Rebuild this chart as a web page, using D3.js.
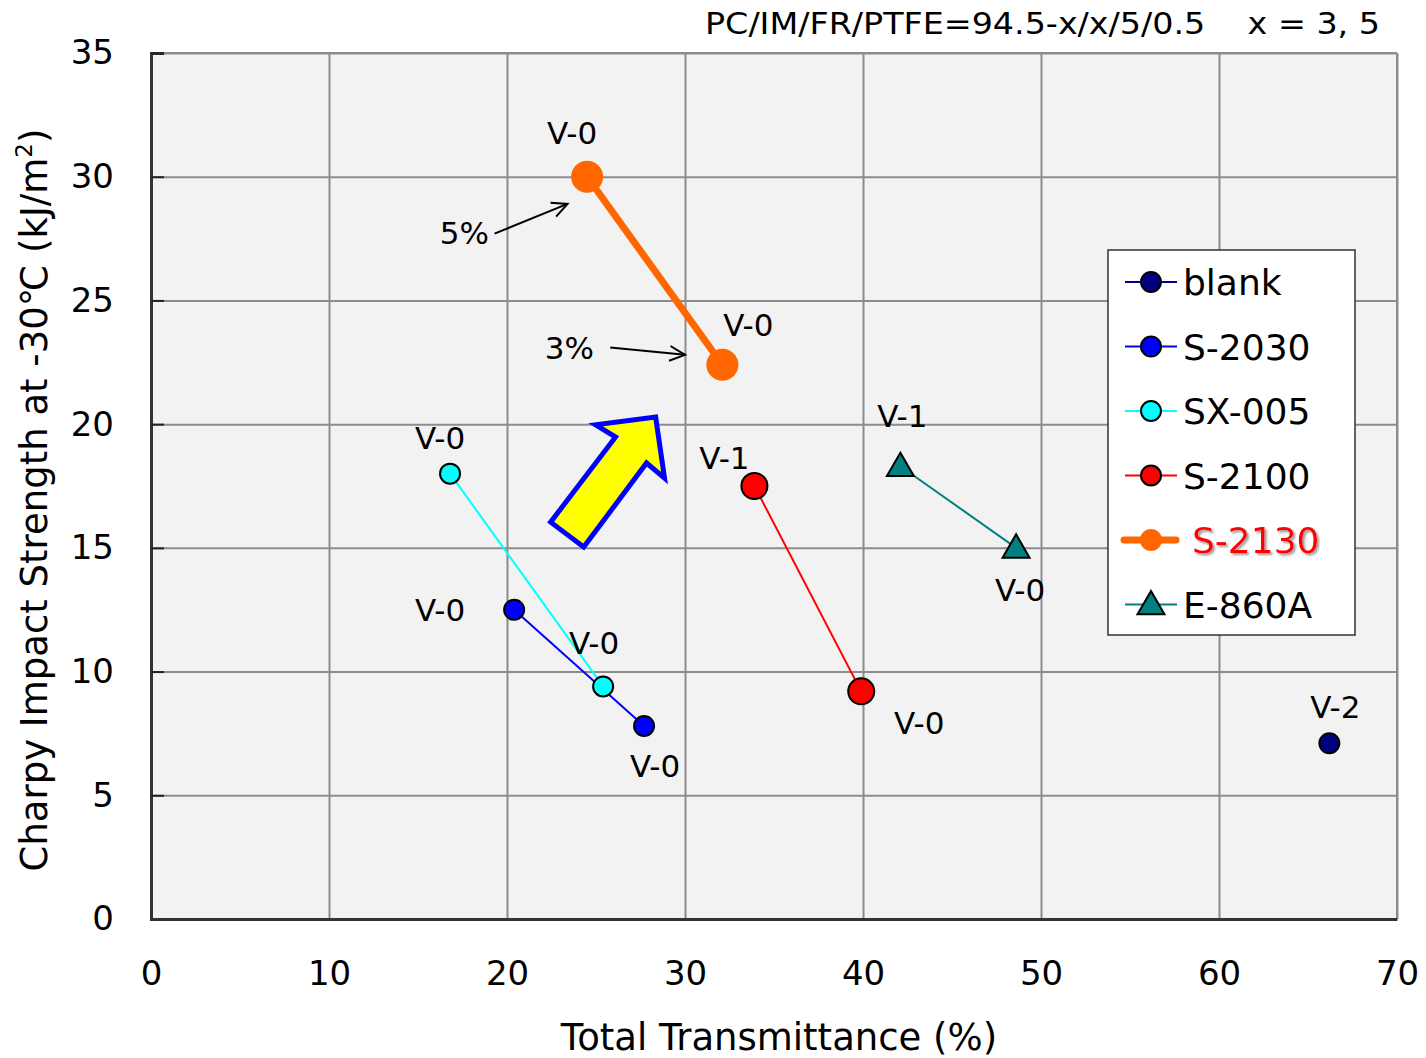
<!DOCTYPE html>
<html>
<head>
<meta charset="utf-8">
<script src="https://cdn.jsdelivr.net/npm/d3@7"></script>
<style>
body { margin: 0; background: #fff; }
text { font-family: "DejaVu Sans", Verdana, sans-serif; }
</style>
</head>
<body>
<svg id="chart" width="1426" height="1058"></svg>
<script>
// data
var seriesNames = ["blank", "S-2030", "SX-005", "S-2100", "S-2130", "E-860A"];
var blankPts = [[66.2, 7.1]];
var s2030Pts = [[20.4, 12.5], [27.7, 7.8]];
var sx005Pts = [[16.8, 18.0], [25.4, 9.4]];
var s2100Pts = [[33.9, 17.5], [39.9, 9.2]];
var s2130Pts = [[24.5, 30.0], [32.1, 22.4]];
var e860Pts = [[42.1, 18.3], [48.6, 15.0]];
// flame ratings, one per point
var blankUL = ["V-2"];
var s2030UL = ["V-0", "V-0"];
var sx005UL = ["V-0", "V-0"];
var s2100UL = ["V-1", "V-0"];
var s2130UL = ["V-0", "V-0"];
var e860UL = ["V-1", "V-0"];
var xTicks = [0, 10, 20, 30, 40, 50, 60, 70];
var yTicks = [0, 5, 10, 15, 20, 25, 30, 35];

var svg = d3.select("#chart");
var pLeft = 151, pRight = 1397, pTop = 53, pBottom = 919;

var x = d3.scaleLinear().domain([0, 70]).range([pLeft, pRight]);
var y = d3.scaleLinear().domain([0, 35]).range([pBottom, pTop]);

// plot background
svg.append("rect")
	.attr("x", pLeft).attr("y", pTop)
	.attr("width", pRight - pLeft).attr("height", pBottom - pTop)
	.attr("fill", "#f2f2f2");

// grid
svg.append("g")
	.attr("transform", "translate(0," + pBottom + ")")
	.call(d3.axisBottom(x).tickValues(xTicks).tickSize(-(pBottom - pTop)).tickFormat(""))
	.call(function (g) {
		g.select(".domain").remove();
		g.selectAll("line").attr("stroke", "#8c8c8c").attr("stroke-width", 2);
	});
svg.append("g")
	.attr("transform", "translate(" + pLeft + ",0)")
	.call(d3.axisLeft(y).tickValues(yTicks).tickSize(-(pRight - pLeft)).tickFormat(""))
	.call(function (g) {
		g.select(".domain").remove();
		g.selectAll("line").attr("stroke", "#8c8c8c").attr("stroke-width", 2);
	});

// frame: top and right lighter, left and bottom dark
svg.append("line").attr("x1", pLeft).attr("x2", pRight).attr("y1", pTop).attr("y2", pTop)
	.attr("stroke", "#8c8c8c").attr("stroke-width", 2);
svg.append("line").attr("x1", pRight).attr("x2", pRight).attr("y1", pTop).attr("y2", pBottom)
	.attr("stroke", "#8c8c8c").attr("stroke-width", 2);

// y axis with inward ticks
var yAxis = svg.append("g")
	.attr("transform", "translate(" + pLeft + ",0)")
	.call(d3.axisLeft(y).tickValues(yTicks).tickSize(-13).tickPadding(37));
yAxis.select(".domain").attr("stroke", "#333").attr("stroke-width", 3);
yAxis.selectAll("line").attr("stroke", "#222").attr("stroke-width", 2);
yAxis.selectAll("text").attr("font-size", 34).attr("fill", "#000")
	.attr("font-family", "DejaVu Sans, Verdana, sans-serif");

var xAxis = svg.append("g")
	.attr("transform", "translate(0," + pBottom + ")")
	.call(d3.axisBottom(x).tickValues(xTicks).tickSize(0).tickPadding(42));
xAxis.select(".domain").attr("stroke", "#333").attr("stroke-width", 3);
xAxis.selectAll("text").attr("font-size", 34).attr("fill", "#000")
	.attr("font-family", "DejaVu Sans, Verdana, sans-serif");

// axis titles
svg.append("text")
	.attr("x", 779).attr("y", 1050)
	.attr("text-anchor", "middle")
	.attr("font-size", 37)
	.text("Total Transmittance (%)");

var yt = svg.append("text")
	.attr("transform", "translate(47,500) rotate(-90)")
	.attr("text-anchor", "middle")
	.attr("font-size", 37);
yt.append("tspan").text("Charpy Impact Strength at -30\u2103 (kJ/m");
yt.append("tspan").attr("font-size", 23).attr("dy", -15).text("2");
yt.append("tspan").attr("dy", 15).text(")");

// composition note
svg.append("text")
	.attr("x", 705).attr("y", 34)
	.attr("font-size", 30)
	.attr("font-family", "DejaVu Sans Condensed, DejaVu Sans, sans-serif")
	.attr("font-stretch", "condensed")
	.attr("textLength", 675)
	.attr("lengthAdjust", "spacingAndGlyphs")
	.attr("xml:space", "preserve")
	.text("PC/IM/FR/PTFE=94.5-x/x/5/0.5    x = 3, 5");

// big yellow arrow (data coordinates)
var bigArrow = [[22.45, 16.04], [24.31, 15.03], [27.84, 18.43], [28.85, 17.82],
	[28.35, 20.29], [24.98, 19.97], [26.10, 19.48]];
svg.append("polygon")
	.attr("points", bigArrow.map(function (p) { return x(p[0]) + "," + y(p[1]); }).join(" "))
	.attr("fill", "#ffff00")
	.attr("stroke", "#0000ff")
	.attr("stroke-width", 5)
	.attr("stroke-linejoin", "miter");

var series = [
	{ name: "blank", pts: blankPts, ul: blankUL, color: "#000080", lw: 2, r: 10, shape: "circle", stroke: "#000" },
	{ name: "S-2030", pts: s2030Pts, ul: s2030UL, color: "#0000ff", lw: 2, r: 10, shape: "circle", stroke: "#000" },
	{ name: "SX-005", pts: sx005Pts, ul: sx005UL, color: "#00ffff", lw: 2, r: 10, shape: "circle", stroke: "#000" },
	{ name: "S-2100", pts: s2100Pts, ul: s2100UL, color: "#ff0000", lw: 2, r: 13, shape: "circle", stroke: "#000" },
	{ name: "S-2130", pts: s2130Pts, ul: s2130UL, color: "#ff6600", lw: 7, r: 16, shape: "circle", stroke: "none" },
	{ name: "E-860A", pts: e860Pts, ul: e860UL, color: "#008080", lw: 2, r: 11, shape: "triangle", stroke: "#000" }
];

// label offsets in px from each point
var labelOffsets = {
	"blank": [[6, -25]],
	"S-2030": [[-74, 11], [11, 51]],
	"SX-005": [[-10, -25], [-9, -32]],
	"S-2100": [[-30, -17], [58, 43]],
	"S-2130": [[-15, -33], [26, -29]],
	"E-860A": [[2, -39], [4, 53]]
};

var line = d3.line().x(function (d) { return x(d[0]); }).y(function (d) { return y(d[1]); });
var tri = d3.symbol().type(d3.symbolTriangle);

function drawMarker(g, s, cx, cy) {
	if (s.shape == "triangle") {
		g.append("path")
			.attr("d", tri.size(s.r * s.r * 2.6)())
			.attr("transform", "translate(" + cx + "," + (cy + 2) + ")")
			.attr("fill", s.color)
			.attr("stroke", s.stroke)
			.attr("stroke-width", 2);
	} else {
		g.append("circle")
			.attr("cx", cx).attr("cy", cy).attr("r", s.r)
			.attr("fill", s.color)
			.attr("stroke", s.stroke)
			.attr("stroke-width", 2);
	}
}

// lines first, then markers on top
series.forEach(function (s) {
	if (s.pts.length > 1) {
		svg.append("path")
			.attr("d", line(s.pts))
			.attr("fill", "none")
			.attr("stroke", s.color)
			.attr("stroke-width", s.lw);
	}
});
series.forEach(function (s) {
	var g = svg.append("g");
	s.pts.forEach(function (p, i) {
		drawMarker(g, s, x(p[0]), y(p[1]));
	});
});
series.forEach(function (s) {
	s.pts.forEach(function (p, i) {
		var off = labelOffsets[s.name][i];
		svg.append("text")
			.attr("x", x(p[0]) + off[0])
			.attr("y", y(p[1]) + off[1])
			.attr("text-anchor", "middle")
			.attr("font-size", 31)
			.text(s.ul[i]);
	});
});

// 5% / 3% notes with thin arrows
var notes = [
	{ text: "5%", at: [17.6, 27.3], from: [19.3, 27.7], to: [23.4, 28.9] },
	{ text: "3%", at: [23.5, 22.65], from: [25.8, 23.1], to: [30.0, 22.8] }
];
notes.forEach(function (n) {
	svg.append("text")
		.attr("x", x(n.at[0])).attr("y", y(n.at[1]))
		.attr("text-anchor", "middle")
		.attr("font-size", 31)
		.text(n.text);
	var x1 = x(n.from[0]), y1 = y(n.from[1]), x2 = x(n.to[0]), y2 = y(n.to[1]);
	svg.append("line")
		.attr("x1", x1).attr("y1", y1).attr("x2", x2).attr("y2", y2)
		.attr("stroke", "#000").attr("stroke-width", 2);
	var a = Math.atan2(y2 - y1, x2 - x1), h = 17;
	svg.append("path")
		.attr("d", "M" + (x2 - h * Math.cos(a - 0.45)) + "," + (y2 - h * Math.sin(a - 0.45)) +
			"L" + x2 + "," + y2 +
			"L" + (x2 - h * Math.cos(a + 0.45)) + "," + (y2 - h * Math.sin(a + 0.45)))
		.attr("fill", "none").attr("stroke", "#000").attr("stroke-width", 2);
});

// legend
var lg = svg.append("g").attr("transform", "translate(1108,250)");
lg.append("rect")
	.attr("width", 247).attr("height", 385)
	.attr("fill", "#fff").attr("stroke", "#333").attr("stroke-width", 1.5);

var defs = svg.append("defs");
var f = defs.append("filter").attr("id", "shadow").attr("x", "-10%").attr("y", "-10%").attr("width", "130%").attr("height", "140%");
f.append("feDropShadow").attr("dx", 2).attr("dy", 2).attr("stdDeviation", 1.2).attr("flood-color", "#999");

series.forEach(function (s, i) {
	var cy = 32 + i * 64.5;
	var row = lg.append("g");
	if (s.name == "S-2130") {
		row.append("line").attr("x1", 16).attr("x2", 68).attr("y1", cy).attr("y2", cy)
			.attr("stroke", s.color).attr("stroke-width", 7).attr("stroke-linecap", "round");
		row.append("circle").attr("cx", 43).attr("cy", cy).attr("r", 11).attr("fill", s.color);
		row.append("text").attr("x", 84).attr("y", cy + 13)
			.attr("font-size", 36).attr("fill", "#ff0000")
			.attr("filter", "url(#shadow)")
			.text(s.name);
	} else {
		row.append("line").attr("x1", 17).attr("x2", 69).attr("y1", cy).attr("y2", cy)
			.attr("stroke", s.color).attr("stroke-width", 2);
		var ms = { shape: s.shape, color: s.color, stroke: "#000", r: s.shape == "triangle" ? 11 : 10 };
		drawMarker(row, ms, 43, cy);
		row.append("text").attr("x", 75).attr("y", cy + 13)
			.attr("font-size", 36)
			.text(s.name);
	}
});
</script>
</body>
</html>
